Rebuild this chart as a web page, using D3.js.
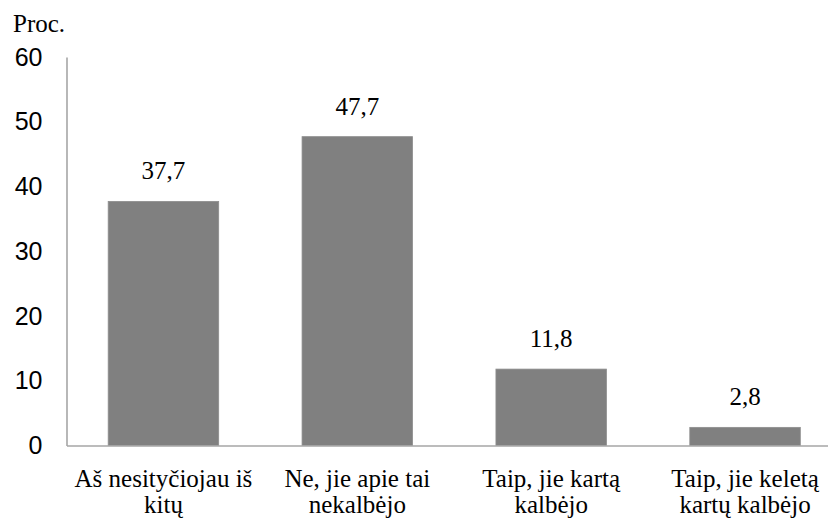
<!DOCTYPE html>
<html>
<head>
<meta charset="utf-8">
<script src="https://cdn.jsdelivr.net/npm/d3@7"></script>
<style>
  html, body { margin: 0; padding: 0; background: #fff; }
  svg { display: block; }
  text.serif { font-family: "Liberation Serif", "Times New Roman", serif; }
  text.sans { font-family: "Liberation Sans", Arial, sans-serif; }
</style>
</head>
<body>
<svg id="chart" width="828" height="519"></svg>
<script>
const categories = ["Aš nesityčiojau iš\nkitų", "Ne, jie apie tai\nnekalbėjo", "Taip, jie kartą\nkalbėjo", "Taip, jie keletą\nkartų kalbėjo"];
const values = [37.7, 47.7, 11.8, 2.8];
const valueLabels = ["37,7", "47,7", "11,8", "2,8"];
const yTicks = [0, 10, 20, 30, 40, 50, 60];
const yUnit = "Proc.";

const svg = d3.select("#chart");

const x = d3.scaleBand().domain(categories).range([66.5, 842]).paddingInner(0.43).paddingOuter(0.215);
const y = d3.scaleLinear().domain([0, 60]).range([445.5, 57]);

// bars
svg.append("g").selectAll("rect").data(values).join("rect")
  .attr("x", (d, i) => x(categories[i]))
  .attr("y", d => y(d))
  .attr("width", x.bandwidth())
  .attr("height", d => y(0) - y(d))
  .attr("fill", "#808080")
  .attr("stroke", "#8e8e8e")
  .attr("stroke-width", 0.8);

// y axis
const yAxis = svg.append("g").attr("transform", "translate(66.5,0)")
  .call(d3.axisLeft(y).tickValues(yTicks).tickSize(0).tickPadding(24).tickFormat(d3.format("d")));
yAxis.attr("font-family", null).attr("font-size", null);
yAxis.select(".domain").attr("stroke", "#a6a6a6").attr("stroke-width", 1.6);
yAxis.selectAll("text").attr("class", "sans").style("font-size", "25px").attr("fill", "#000");

// x axis
const xAxis = svg.append("g").attr("transform", `translate(0,${y(0)})`)
  .call(d3.axisBottom(x).tickSize(0).tickFormat(""));
xAxis.select(".domain").attr("stroke", "#a6a6a6").attr("stroke-width", 1.6);

// category labels (two lines each)
const labG = svg.append("g");
categories.forEach(c => {
  c.split("\n").forEach((line, i) => {
    labG.append("text")
      .attr("class", "serif")
      .attr("x", x(c) + x.bandwidth() / 2)
      .attr("y", 487 + i * 26)
      .attr("text-anchor", "middle")
      .style("font-size", "25px")
      .attr("fill", "#000")
      .text(line);
  });
});

// value labels
const valG = svg.append("g");
values.forEach((v, i) => {
  valG.append("text")
    .attr("class", "serif")
    .attr("x", x(categories[i]) + x.bandwidth() / 2)
    .attr("y", y(v) - 22)
    .attr("text-anchor", "middle")
    .style("font-size", "25px")
    .attr("fill", "#000")
    .text(valueLabels[i]);
});

// unit label
svg.append("text").attr("class", "serif").attr("x", 13).attr("y", 32)
  .style("font-size", "25px").attr("fill", "#000")
  .text(yUnit);
</script>
</body>
</html>
